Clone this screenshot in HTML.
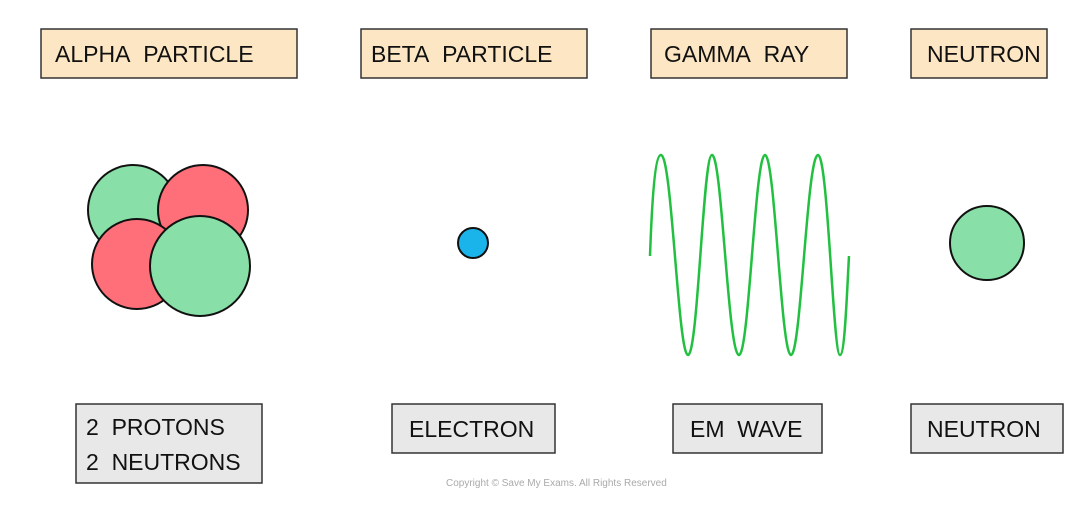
<!DOCTYPE html>
<html><head><style>
body{margin:0;background:#fff;}
svg text{font-family:"Liberation Sans",sans-serif;font-size:23px;fill:#111;letter-spacing:0}
</style></head><body>
<svg width="1086" height="519" viewBox="0 0 1086 519" xmlns="http://www.w3.org/2000/svg">
<g stroke="#333" stroke-width="1.5">
<rect x="41" y="29" width="256" height="49" fill="#fde6c4"/>
<rect x="361" y="29" width="226" height="49" fill="#fde6c4"/>
<rect x="651" y="29" width="196" height="49" fill="#fde6c4"/>
<rect x="911" y="29" width="136" height="49" fill="#fde6c4"/>
<rect x="76" y="404" width="186" height="79" fill="#e8e8e8"/>
<rect x="392" y="404" width="163" height="49" fill="#e8e8e8"/>
<rect x="673" y="404" width="149" height="49" fill="#e8e8e8"/>
<rect x="911" y="404" width="152" height="49" fill="#e8e8e8"/>
</g>
<text x="55" y="62">ALPHA&#160;&#160;PARTICLE</text>
<text x="371" y="62">BETA&#160;&#160;PARTICLE</text>
<text x="664" y="62">GAMMA&#160;&#160;RAY</text>
<text x="927" y="62">NEUTRON</text>
<text x="86" y="435">2&#160;&#160;PROTONS</text>
<text x="86" y="470">2&#160;&#160;NEUTRONS</text>
<text x="409" y="437">ELECTRON</text>
<text x="690" y="437">EM&#160;&#160;WAVE</text>
<text x="927" y="437">NEUTRON</text>
<g stroke="#111" stroke-width="2">
<circle cx="133" cy="210" r="45" fill="#88e0a8"/>
<circle cx="203" cy="210" r="45" fill="#fe6f7a"/>
<circle cx="137" cy="264" r="45" fill="#fe6f7a"/>
<circle cx="200" cy="266" r="50" fill="#88e0a8"/>
<circle cx="473" cy="243" r="15" fill="#1bb4ea"/>
<circle cx="987" cy="243" r="37" fill="#88e0a8"/>
</g>
<path fill="none" stroke="#22c040" stroke-width="2.5" d="M650,256 C652,200 655,155 661,155 C672,155 678,355 688,355 C698,355 703,155 712,155 C722,155 728,355 739,355 C749,355 755,155 765,155 C775,155 781,355 791,355 C801,355 807,155 818,155 C828,155 833,355 840,355 C845,355 847,290 849,256"/>
<text x="446" y="486" style="font-size:10px;fill:#aaa;letter-spacing:0">Copyright © Save My Exams. All Rights Reserved</text>
</svg>
</body></html>
